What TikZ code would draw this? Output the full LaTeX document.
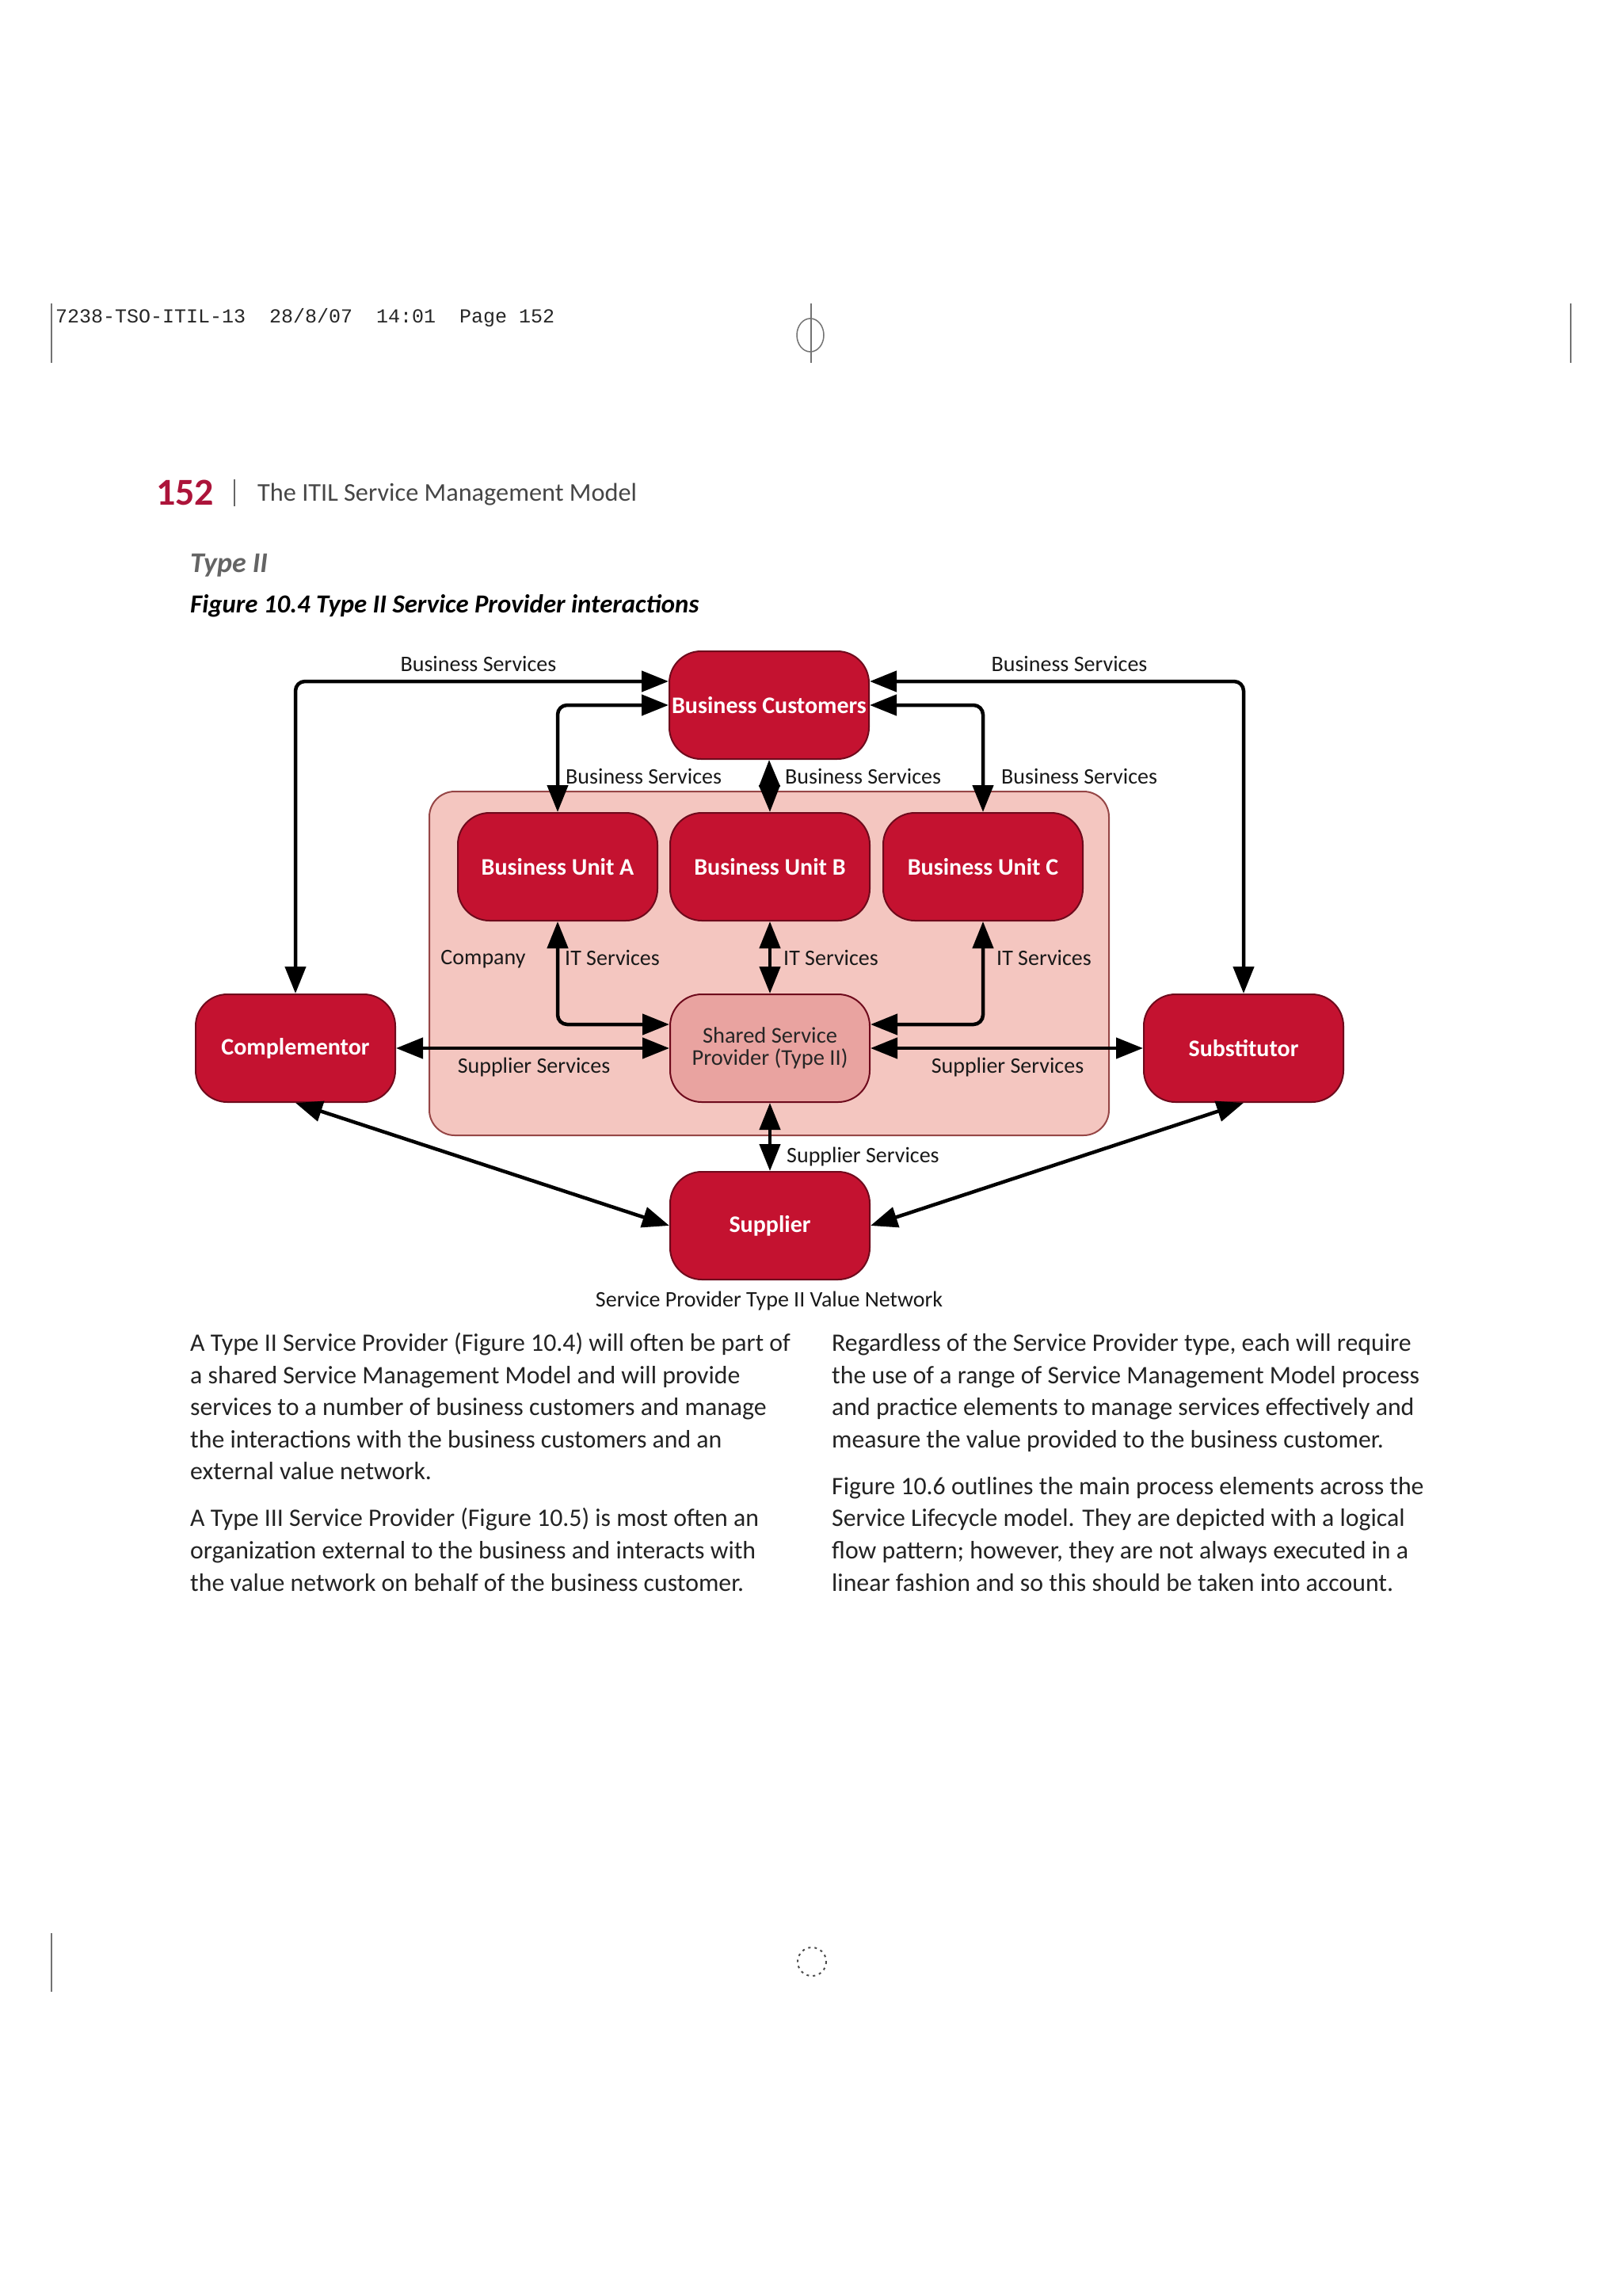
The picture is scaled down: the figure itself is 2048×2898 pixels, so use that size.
\documentclass[tikz,border=0pt]{standalone}
\usepackage{fontspec}
\setmainfont{Carlito}
\setmonofont{Liberation Mono}
\usetikzlibrary{arrows.meta,calc}
\definecolor{boxred}{RGB}{196,18,48}
\definecolor{boxedge}{RGB}{110,10,28}
\definecolor{companyfill}{RGB}{244,198,192}
\definecolor{companyedge}{RGB}{150,70,70}
\definecolor{sspfill}{RGB}{233,163,160}
\definecolor{pagenum}{RGB}{172,20,58}
\definecolor{bodytext}{RGB}{35,35,35}
\definecolor{headgray}{RGB}{70,70,70}
\definecolor{typegray}{RGB}{100,100,100}
\begin{document}
\begin{tikzpicture}[x=1pt,y=-1pt,
  unitbox/.style={draw=boxedge, line width=2pt, fill=boxred, rounded corners=40pt,
    minimum width=252pt, minimum height=136pt, inner sep=0pt, text=white,
    font=\fontsize{30}{34}\selectfont\bfseries, align=center},
  sspbox/.style={unitbox, fill=sspfill, text=black!85, font=\fontsize{28.5}{28}\selectfont},
  companybox/.style={draw=companyedge, line width=2pt, fill=companyfill, rounded corners=32pt,
    minimum width=858pt, minimum height=434pt, inner sep=0pt},
  conn/.style={line width=4.5pt, {Triangle[length=34pt,width=26pt]}-{Triangle[length=34pt,width=26pt]}, rounded corners=12pt},
  lbl/.style={font=\fontsize{28}{30}\selectfont, inner sep=0pt, text height=20pt, text depth=6pt, text=black!90},
  bodyl/.style={anchor=west, inner sep=0pt, font=\fontsize{31.8}{38}\selectfont, text=bodytext, text height=23pt, text depth=7pt},
  cropline/.style={line width=2pt, draw=black!55}
]
\useasboundingbox (0,0) rectangle (2048,2898);
\fill[white] (0,0) rectangle (2048,2898);

% crop marks
\coordinate (tl1) at (65,383); \coordinate (tl2) at (65,458);
\draw[cropline] (tl1) -- (tl2);
\coordinate (tr1) at (1983,383); \coordinate (tr2) at (1983,458);
\draw[cropline] (tr1) -- (tr2);
\coordinate (tc1) at (1024,383); \coordinate (tc2) at (1024,458);
\draw[cropline] (tc1) -- (tc2);
\draw[cropline, line width=1.5pt] (1023,423) ellipse [x radius=17, y radius=21];
\coordinate (bl1) at (65,2440); \coordinate (bl2) at (65,2514);
\draw[cropline] (bl1) -- (bl2);
\draw[line width=2pt, black!70, dash pattern=on 3pt off 5pt] (1025,2476) circle [radius=18];

% slug line
\node[anchor=west, inner sep=0pt, font=\fontsize{25}{30}\selectfont\ttfamily, text=black!85] (slug) at (70,401)
  {7238-TSO-ITIL-13\ \ 28/8/07\ \ 14:01\ \ Page 152};

% running head
\node[anchor=west, inner sep=0pt, font=\fontsize{48}{50}\selectfont\bfseries, text=pagenum] (pnum) at (197,622) {152};
\coordinate (bar1) at (296,605); \coordinate (bar2) at (296,639);
\draw[line width=2pt, black!60] (bar1) -- (bar2);
\node[anchor=west, inner sep=0pt, font=\fontsize{32.3}{36}\selectfont, text=headgray] (rhead) at (325,624) {The ITIL Service Management Model};

\node[anchor=west, inner sep=0pt, font=\fontsize{36}{40}\selectfont\bfseries\itshape, text=typegray] (typeii) at (240,714) {Type II};
\node[anchor=west, inner sep=0pt, font=\fontsize{32.8}{36}\selectfont\bfseries\itshape, text=black] (figcap) at (240,765) {Figure 10.4 Type II Service Provider interactions};

% diagram
\node[companybox] (company) at (971,1216) {};
\node[unitbox] (bc) at (971,890) {Business Customers};
\node[unitbox] (bua) at (704,1094) {Business Unit A};
\node[unitbox] (bub) at (972,1094) {Business Unit B};
\node[unitbox] (buc) at (1241,1094) {Business Unit C};
\node[unitbox] (comp) at (373,1323) {Complementor};
\node[sspbox] (ssp) at (972,1323) {Shared Service\\Provider (Type II)};
\node[unitbox] (subst) at (1570,1323) {Substitutor};
\node[unitbox] (sup) at (972,1547) {Supplier};

\draw[conn] (comp.north) |- ($(bc.west)+(0,-30)$);
\draw[conn] (subst.north) |- ($(bc.east)+(0,-30)$);
\draw[conn] (bua.north) |- (bc.west);
\draw[conn] (buc.north) |- (bc.east);
\draw[conn] (bc.south) -- (bub.north);
\draw[conn] (bua.south) |- ($(ssp.west)+(0,-30)$);
\draw[conn] (bub.south) -- (ssp.north);
\draw[conn] (buc.south) |- ($(ssp.east)+(0,-30)$);
\draw[conn] (comp.east) -- (ssp.west);
\draw[conn] (ssp.east) -- (subst.west);
\draw[conn] (ssp.south) -- (sup.north);
\draw[conn] (comp.south) -- (sup.west);
\draw[conn] (subst.south) -- (sup.east);

\node[lbl] (l1) at (604,840) {Business Services};
\node[lbl] (l2) at (1350,840) {Business Services};
\node[lbl, anchor=west] (l3) at (714,982) {Business Services};
\node[lbl, anchor=west] (l4) at (991,982) {Business Services};
\node[lbl, anchor=west] (l5) at (1264,982) {Business Services};
\node[lbl, anchor=west] (l6) at (713,1211) {IT Services};
\node[lbl, anchor=west] (l7) at (989,1211) {IT Services};
\node[lbl, anchor=west] (l8) at (1258,1211) {IT Services};
\node[lbl] (l9) at (610,1210) {Company};
\node[lbl] (l10) at (674,1347) {Supplier Services};
\node[lbl] (l11) at (1272,1347) {Supplier Services};
\node[lbl, anchor=west] (l12) at (993,1460) {Supplier Services};
\node[lbl] (l13) at (971,1642) {Service Provider Type II Value Network};

% body text
\node[bodyl] (a1) at (240,1697) {A Type II Service Provider (Figure 10.4) will often be part of};
\node[bodyl] (a2) at (240,1738) {a shared Service Management Model and will provide};
\node[bodyl] (a3) at (240,1778) {services to a number of business customers and manage};
\node[bodyl] (a4) at (240,1819) {the interactions with the business customers and an};
\node[bodyl] (a5) at (240,1859) {external value network.};
\node[bodyl] (a6) at (240,1918) {A Type III Service Provider (Figure 10.5) is most often an};
\node[bodyl] (a7) at (240,1959) {organization external to the business and interacts with};
\node[bodyl] (a8) at (240,2000) {the value network on behalf of the business customer.};
\node[bodyl] (b1) at (1050,1697) {Regardless of the Service Provider type, each will require};
\node[bodyl] (b2) at (1050,1738) {the use of a range of Service Management Model process};
\node[bodyl] (b3) at (1050,1778) {and practice elements to manage services effectively and};
\node[bodyl] (b4) at (1050,1819) {measure the value provided to the business customer.};
\node[bodyl] (b5) at (1050,1878) {Figure 10.6 outlines the main process elements across the};
\node[bodyl] (b6) at (1050,1918) {Service Lifecycle model. They are depicted with a logical};
\node[bodyl] (b7) at (1050,1959) {flow pattern; however, they are not always executed in a};
\node[bodyl] (b8) at (1050,2000) {linear fashion and so this should be taken into account.};
\end{tikzpicture}
\end{document}
